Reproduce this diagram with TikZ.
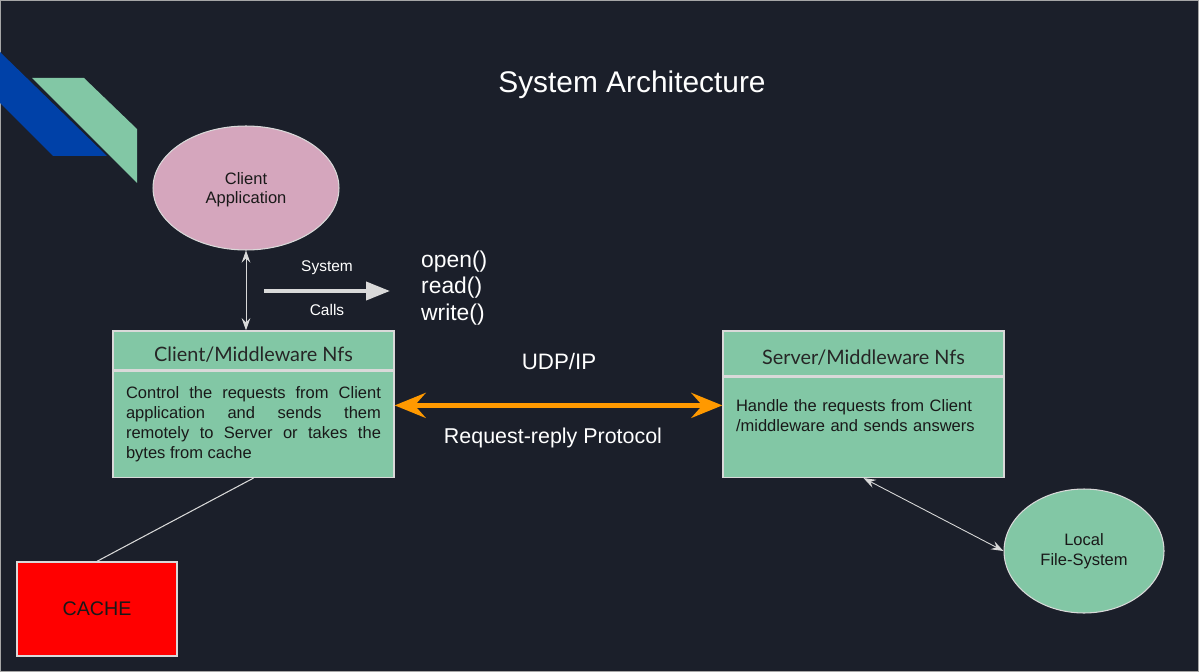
\documentclass[tikz,border=0pt]{standalone}
\usepackage{fontspec}
\setmainfont{Liberation Sans}
\newfontfamily\latofont{Lato}
\usetikzlibrary{positioning,shapes.geometric,arrows.meta}
\hyphenpenalty=10000
\exhyphenpenalty=10000

\definecolor{bgdark}{HTML}{1B1F2A}
\definecolor{boxgreen}{HTML}{82C7A5}
\definecolor{apppink}{HTML}{D5A6BD}
\definecolor{stripeblue}{HTML}{0041A8}
\definecolor{edgegray}{HTML}{D9D9D9}
\definecolor{netorange}{HTML}{FF9900}

\begin{document}
\begin{tikzpicture}[x=0.02cm, y=-0.02cm,
  head/.style={draw=edgegray, line width=0.8pt, fill=boxgreen, minimum width=5.62cm,
    text height=13pt, text depth=0pt,
    font=\latofont\fontsize{11.3}{13}\selectfont, text=black!85},
  body/.style={draw=edgegray, line width=0.8pt, fill=boxgreen, minimum width=5.62cm,
    inner xsep=0.26cm, text width=5.1cm, font=\fontsize{9.4}{11.3}\selectfont,
    text=black!90},
  bubble/.style={ellipse, draw=edgegray, line width=0.6pt, inner sep=0pt,
    minimum height=2.48cm, font=\fontsize{9.4}{11.3}\selectfont, align=center, text=black!90},
  thinlink/.style={draw=edgegray, line width=0.5pt, {Stealth[length=7pt,width=5pt,inset=2.5pt]}-{Stealth[length=7pt,width=5pt,inset=2.5pt]}},
  whitetext/.style={text=white, font=\fontsize{12.7}{15}\selectfont}
]
  % Background and frame
  \useasboundingbox (0,0) rectangle (1199,672);
  \fill[bgdark] (0,0) rectangle (1199,672);
  \draw[gray!70, line width=0.6pt] (0.5,0.5) rectangle (1198.5,671.5);

  % Corner stripes
  \fill[stripeblue] (0,52) -- (107,156) -- (53,156) -- (0,103) -- cycle;
  \fill[boxgreen] (32,78) -- (84,78) -- (137,129) -- (137,183) -- cycle;

  % Title
  \node[text=white, font=\fontsize{17}{20}\selectfont] (title) at (632,85) {System Architecture};

  % Client side
  \node[bubble, fill=apppink, minimum width=3.72cm, text depth=0pt] (clientapp) at (246,188) {Client\\Application};
  \node[head, minimum height=0.78cm] (clienthead) at (253.5,350.5) {Client/Middleware Nfs};
  \node[body, below=0pt of clienthead, minimum height=2.12cm, align=justify] (clientbody)
    {Control the requests from Client application and sends them remotely to Server or takes the bytes from cache};
  \node[draw=edgegray, line width=0.8pt, fill=red, minimum width=3.2cm, minimum height=1.88cm,
    font=\fontsize{11.2}{13}\selectfont, text=black!90] (cache) at (97,609) {CACHE};

  % Server side
  \node[head, minimum height=0.9cm] (serverhead) at (863.5,353.5) {Server/Middleware Nfs};
  \node[body, below=0pt of serverhead, minimum height=2.0cm, align=left, text depth=0.86cm] (serverbody)
    {Handle the requests from Client /middleware and sends answers};
  \node[bubble, fill=boxgreen, minimum width=3.2cm] (localfs) at (1084,551) {Local\\File-System};

  % System calls
  \coordinate (callstart) at (264,291);
  \coordinate (callend) at (390,291);
  \draw[edgegray, line width=2.2pt, -{Triangle[length=0.48cm,width=0.36cm]}] (callstart) -- (callend);
  \node[text=white, font=\fontsize{8.8}{10}\selectfont] (syslabel) at (327,268) {System};
  \node[text=white, font=\fontsize{8.8}{10}\selectfont] (callslabel) at (327,310) {Calls};
  \node[text=white, font=\fontsize{13}{15.3}\selectfont, align=left, anchor=west] (calls) at (415,288)
    {open()\\read()\\write()};

  % Links
  \draw[thinlink] (clientapp.south) -- (clientapp.south |- clienthead.north);
  \draw[thinlink] (serverbody.south) -- (localfs.west);
  \draw[edgegray, line width=0.6pt] (clientbody.south) -- (cache.north);

  % Request-reply link
  \draw[netorange, line width=2.8pt, {Stealth[length=0.62cm,width=0.5cm,inset=0.22cm]}-{Stealth[length=0.62cm,width=0.5cm,inset=0.22cm]}]
    ([yshift=0.38cm]clientbody.east) -- ([yshift=0.38cm]clientbody.east -| serverbody.west);
  \node[whitetext] (udp) at (559,362) {UDP/IP};
  \node[whitetext, font=\fontsize{12.2}{15}\selectfont] (proto) at (553,438) {Request-reply Protocol};
\end{tikzpicture}
\end{document}
